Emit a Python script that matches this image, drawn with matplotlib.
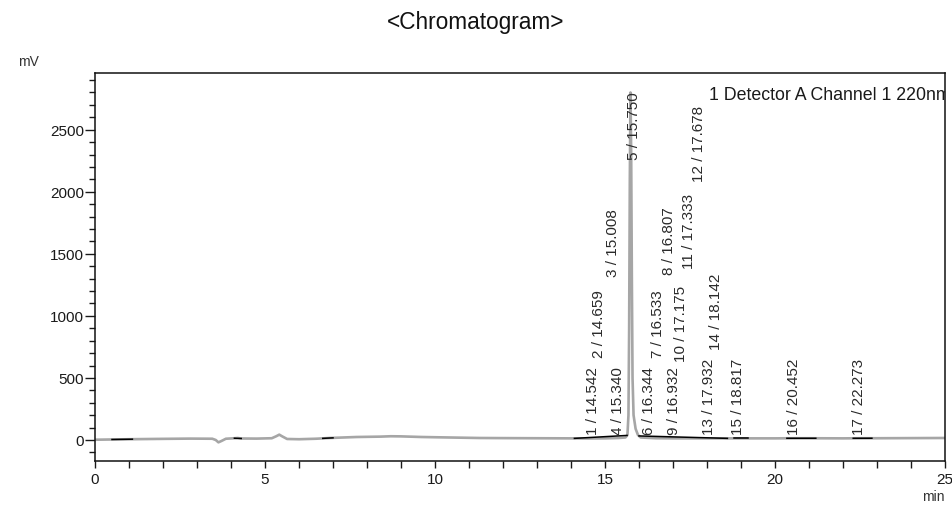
import matplotlib
matplotlib.use("Agg")
import matplotlib.pyplot as plt
import numpy as np
from matplotlib.ticker import MultipleLocator

plt.rcParams['font.family'] = ['Liberation Sans', 'DejaVu Sans']

# ---- data ----
time_min = [0.0, 0.5, 1.0, 2.0, 2.8, 3.45, 3.55, 3.63, 3.72, 3.85, 4.1, 4.2, 4.3, 4.75,
            5.2, 5.33, 5.42, 5.5, 5.65, 6.0, 6.5, 6.9, 7.7, 8.4, 8.7, 9.0, 9.6, 10.0,
            11.3, 12.0, 13.0, 14.06, 14.5, 15.0, 15.4, 15.6, 15.66, 15.69, 15.71, 15.73,
            15.75, 15.77, 15.79, 15.81, 15.84, 15.90, 15.97, 16.05, 16.5, 17.0, 18.0,
            19.26, 20.0, 20.5, 21.0, 22.0, 22.5, 23.0, 24.0, 25.0]
signal_mV = [2, 4, 6, 9, 11, 10, 0, -19, -8, 10, 14, 16, 12, 11,
             14, 30, 43, 30, 8, 6, 10, 16, 24, 27, 30, 29, 24, 22,
             16, 15, 14, 13, 12, 13, 16, 20, 40, 200, 900, 2100,
             2800, 2300, 1300, 500, 200, 90, 40, 20, 14, 13, 13,
             13, 13, 14, 14, 13, 14, 14, 15, 16]

peak_no = list(range(1, 18))
peak_rt = [14.542, 14.659, 15.008, 15.340, 15.750, 16.344, 16.533, 16.807, 16.932,
           17.175, 17.333, 17.678, 17.932, 18.142, 18.817, 20.452, 22.273]

# integration baseline segments (start, end) in min
baseline_start = [0.5, 4.1, 6.7, 14.1, 16.0, 18.8, 20.35, 22.3]
baseline_end = [1.1, 4.3, 7.0, 15.65, 18.6, 19.2, 21.2, 22.85]

# label placement (annotation layout)
label_base = [48, 669, 1320, 48, 2264, 48, 669, 1337, 48, 637, 1386, 2087, 48, 733, 48, 48, 48]
label_dx_px = [3.7, 5.7, 7.9, 1.7, 3.8, -1.4, 1.2, 2.9, 3.7, 2.4, 5.1, 3.4, 4.7, 4.6, 3.7, 3.3, 6.5]

# ---- figure ----
fig = plt.figure(figsize=(9.52, 5.10), dpi=100)
ax = fig.add_axes([95/952, 1-461.7/510, (945-95)/952, (461.7-74)/510])

ax.plot(time_min, signal_mV, color='#a6a6a6', lw=1.9, zorder=2)
for s, e in zip(baseline_start, baseline_end):
    ys = np.interp([s, e], time_min, signal_mV)
    ax.plot([s, e], ys, color='black', lw=1.1, zorder=3)

for n, rt, base, dx in zip(peak_no, peak_rt, label_base, label_dx_px):
    ax.annotate(f"{n} / {rt:.3f}", xy=(rt, base), xytext=(dx*0.72, 0),
                textcoords='offset points', rotation=90, ha='center', va='bottom',
                fontsize=11, color='#2a2a2a', zorder=4)

ax.text(18.07, 2783, "1 Detector A Channel 1 220nm", fontsize=12.8, color='#1a1a1a',
        ha='left', va='center', clip_on=True, zorder=5)

ax.set_xlim(0, 25)
ax.set_ylim(-167, 2957)
ax.xaxis.set_major_locator(MultipleLocator(5))
ax.xaxis.set_minor_locator(MultipleLocator(1))
ax.yaxis.set_major_locator(MultipleLocator(500))
ax.yaxis.set_minor_locator(MultipleLocator(100))
ax.tick_params(axis='both', which='both', direction='out', colors='#1a1a1a',
               labelsize=11, width=1.0)
ax.tick_params(axis='x', which='both', length=5, pad=3)
ax.tick_params(axis='y', which='major', length=7, pad=1)
ax.tick_params(axis='y', which='minor', length=4)
for sp in ax.spines.values():
    sp.set_linewidth(1.1)
    sp.set_color('#111111')

fig.text(0.5, 1-22/510, "<Chromatogram>", ha='center', va='center', fontsize=16.3,
         color='#111111')
fig.text(18/952, 1-62/510, "mV", ha='left', va='center', fontsize=10, color='#333333')
fig.text(945/952, 1-497/510, "min", ha='right', va='center', fontsize=10, color='#333333')

fig.savefig("out.png", dpi=100)
